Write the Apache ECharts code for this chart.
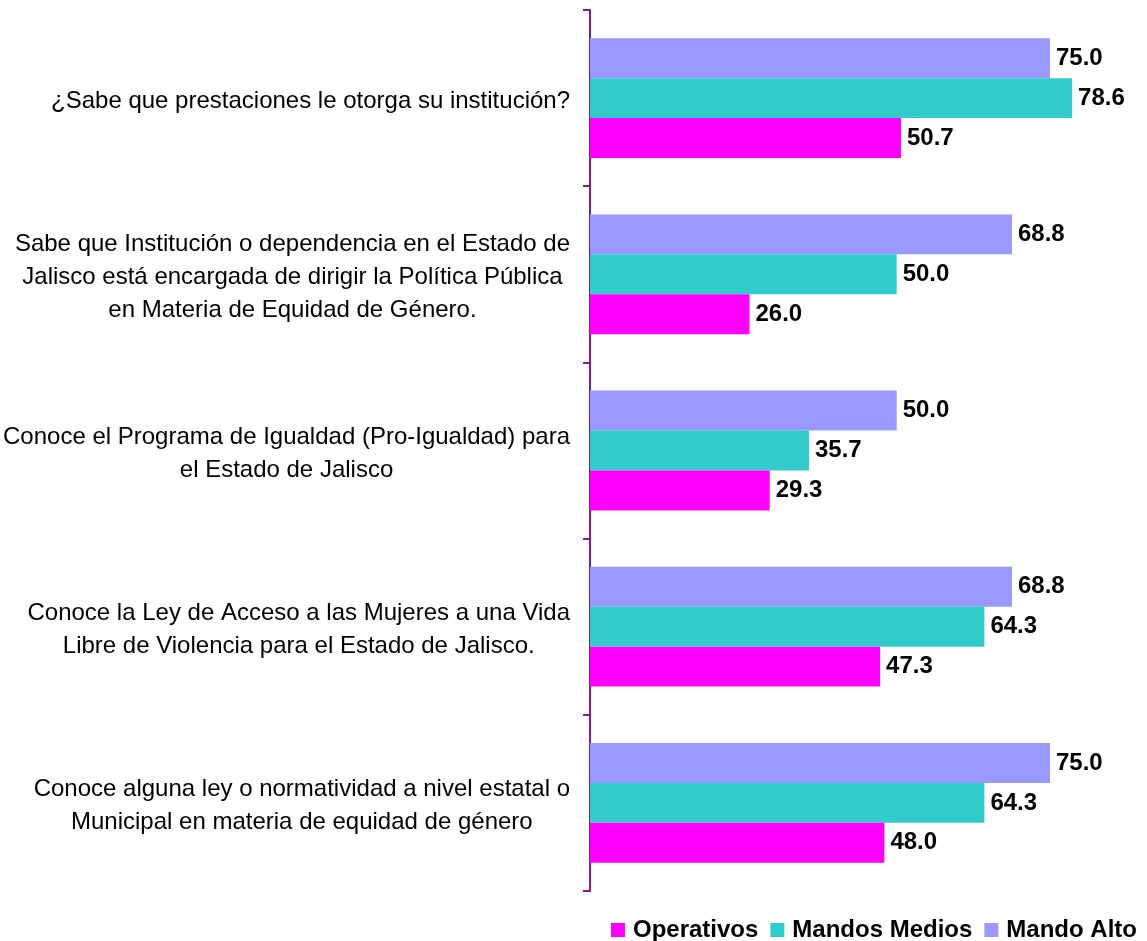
<!DOCTYPE html>
<html>
<head>
<meta charset="utf-8">
<script src="https://cdn.jsdelivr.net/npm/echarts@6/dist/echarts.min.js"></script>
<style>
  html, body { margin: 0; padding: 0; background: #fff; }
  #chart { width: 1147px; height: 941px; }
</style>
</head>
<body>
<div id="chart"></div>
<script>
// preguntas (de arriba hacia abajo)
var categorias = [
    '¿Sabe que prestaciones le otorga su institución?',
    'Sabe que Institución o dependencia en el Estado de\nJalisco está encargada de dirigir la Política Pública\nen Materia de Equidad de Género.',
    'Conoce el Programa de Igualdad (Pro-Igualdad) para\nel Estado de Jalisco',
    'Conoce la Ley de Acceso a las Mujeres a una Vida\nLibre de Violencia para el Estado de Jalisco.',
    'Conoce alguna ley o normatividad a nivel estatal o\nMunicipal en materia de equidad de género'
];
var operativos = [50.7, 26.0, 29.3, 47.3, 48.0];
var mandosMedios = [78.6, 50.0, 35.7, 64.3, 64.3];
var mandoAlto = [75.0, 68.8, 50.0, 68.8, 75.0];

var fuente = 'Liberation Sans, Arial, sans-serif';

function serie(nombre, color, datos) {
    return {
        name: nombre,
        type: 'bar',
        data: datos,
        barGap: '0%',
        barCategoryGap: '32%',
        itemStyle: { color: color },
        label: {
            show: true,
            position: 'right',
            distance: 6,
            color: '#000',
            fontWeight: 'bold',
            fontSize: 24,
            fontFamily: fuente,
            formatter: function (p) { return p.value.toFixed(1); }
        }
    };
}

var myChart = echarts.init(document.getElementById('chart'));
myChart.setOption({
    animation: false,
    textStyle: { fontFamily: fuente },
    grid: { left: 590, top: 10, width: 552, height: 881 },
    legend: {
        right: 10,
        top: 918,
        padding: 0,
        icon: 'rect',
        itemWidth: 14,
        itemHeight: 14,
        itemGap: 12,
        data: ['Operativos', 'Mandos Medios', 'Mando Alto'],
        textStyle: { fontSize: 24, fontWeight: 'bold', color: '#000', fontFamily: fuente, padding: [0, 0, 0, 3] }
    },
    xAxis: {
        type: 'value',
        min: 0,
        max: 90,
        show: false,
        splitLine: { show: false }
    },
    yAxis: {
        type: 'category',
        data: categorias,
        inverse: true,
        axisLine: { lineStyle: { color: '#8c1a8c', width: 2 } },
        axisTick: { show: true, length: 7, lineStyle: { color: '#8c1a8c', width: 2 } },
        axisLabel: {
            margin: 20,
            align: 'right',
            padding: [6, 0, 0, 0],
            formatter: function (v) {
                return v.split('\n').map(function (l) { return '{c|' + l + '}'; }).join('\n');
            },
            rich: {
                c: { align: 'center', fontSize: 24, lineHeight: 33, color: '#000', fontFamily: fuente }
            }
        }
    },
    series: [
        serie('Mando Alto', '#9999ff', mandoAlto),
        serie('Mandos Medios', '#33cccc', mandosMedios),
        serie('Operativos', '#ff00ff', operativos)
    ]
});
</script>
</body>
</html>
